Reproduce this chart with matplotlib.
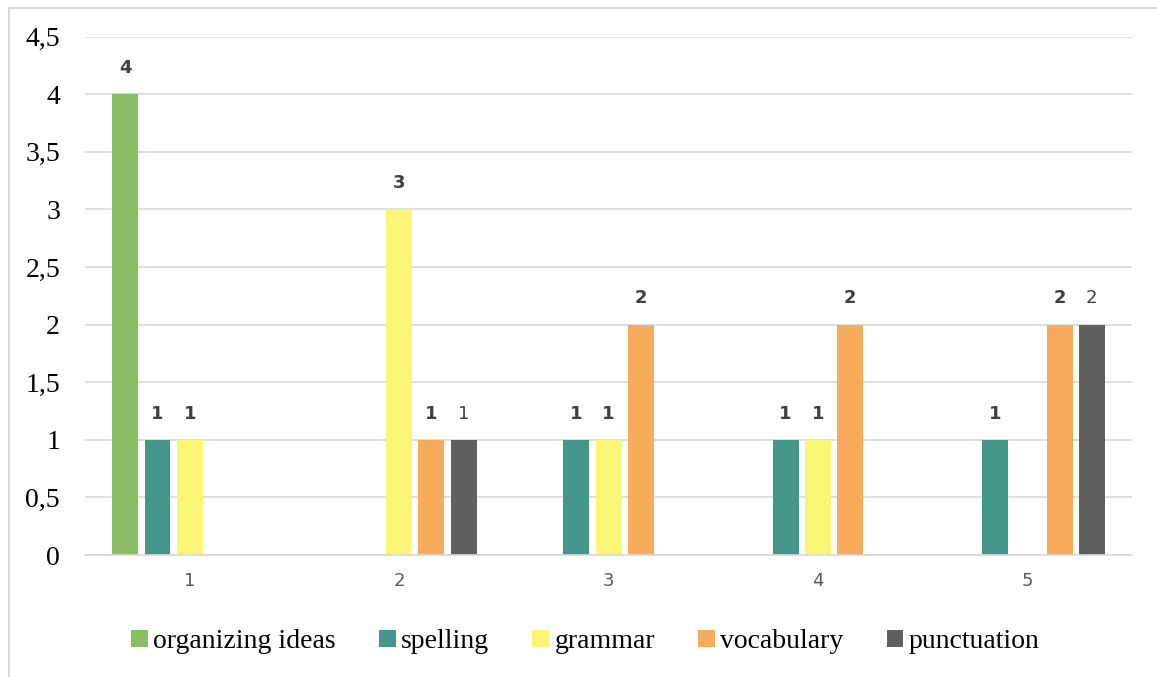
import matplotlib.pyplot as plt
from matplotlib.lines import Line2D
from matplotlib.ticker import FuncFormatter
import numpy as np

categories = ['1', '2', '3', '4', '5']
series_names = ['organizing ideas', 'spelling', 'grammar', 'vocabulary', 'punctuation']
organizing_ideas = [4, None, None, None, None]
spelling = [1, None, 1, 1, 1]
grammar = [1, 3, 1, 1, None]
vocabulary = [None, 1, 2, 2, 2]
punctuation = [None, 1, None, None, 2]
colors = ['#8BBE62', '#45968A', '#F8F674', '#F8AB5A', '#5F5F5F']

series = [organizing_ideas, spelling, grammar, vocabulary, punctuation]

fig = plt.figure(figsize=(11.57, 6.77), dpi=100)
ax = fig.add_axes([0.0735, 0.1802, 0.9049, 0.7656])

x = np.arange(len(categories))
width = 0.124
step = 0.154
for i, (name, vals, c) in enumerate(zip(series_names, series, colors)):
    pos = x + (i - 2) * step
    v = np.array([np.nan if val is None else val for val in vals], dtype=float)
    ax.bar(pos, np.nan_to_num(v), width, color=c, label=name, zorder=2)
    for p, val in zip(pos, vals):
        if val is None:
            continue
        ax.text(p, val + 0.15, str(val), ha='center', va='bottom',
                fontsize=13, color='#404040', family='DejaVu Sans',
                fontweight='normal' if name == 'punctuation' else 'bold')

ax.set_xlim(-0.5, len(categories) - 0.5)
ax.set_ylim(0, 4.5)
ax.set_yticks(np.arange(0, 4.51, 0.5))
ax.yaxis.set_major_formatter(FuncFormatter(lambda v, _: ('%g' % v).replace('.', ',')))
ax.set_xticks(x)
ax.set_xticklabels(categories)
ax.grid(axis='y', color='#D9D9D9', linewidth=1.2, zorder=0)
for s in ['top', 'right', 'left']:
    ax.spines[s].set_visible(False)
ax.spines['bottom'].set_color('#D9D9D9')
ax.spines['bottom'].set_linewidth(1.2)
ax.tick_params(axis='both', length=0)
ax.tick_params(axis='y', labelsize=20, pad=18)
ax.tick_params(axis='x', labelsize=13, labelcolor='#595959', pad=12)
for t in ax.get_yticklabels():
    t.set_family('Liberation Serif')

leg = fig.legend(loc='center', bbox_to_anchor=(0.506, 0.052), ncol=5, frameon=False,
                 prop={'family': 'Liberation Serif', 'size': 20},
                 handlelength=0.6, handleheight=0.6, handletextpad=0.2, columnspacing=1.55)

# chart area border (top and left only visible)
fig.add_artist(Line2D([9 / 1157, 1], [1 - 8 / 677, 1 - 8 / 677], color='#D9D9D9', linewidth=1.5))
fig.add_artist(Line2D([9 / 1157, 9 / 1157], [0, 1 - 8 / 677], color='#D9D9D9', linewidth=1.5))

fig.savefig('out.png', dpi=100)
